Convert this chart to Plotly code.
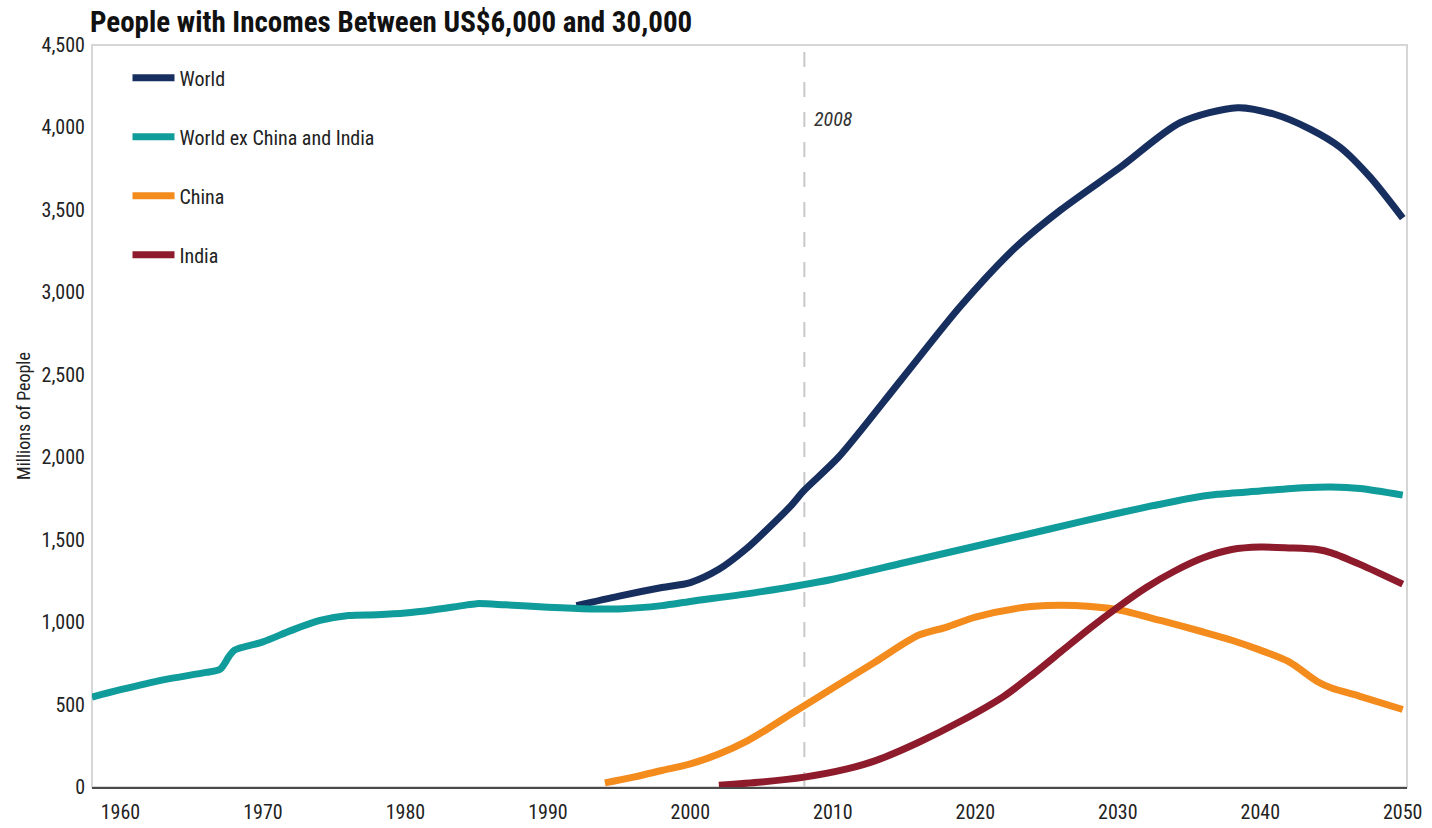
import plotly.graph_objects as go

# Series: millions of people with incomes between US$6,000 and 30,000
years_ex = [1958, 1960, 1963, 1966, 1967, 1967.6, 1968, 1970, 1972, 1974, 1976, 1978, 1980,
            1982, 1984, 1985, 1987, 1990, 1993, 1995, 1998, 2000, 2005, 2010, 2015,
            2020, 2025, 2030, 2035, 2037, 2040, 2043, 2045, 2047, 2050]
world_ex = [545, 590, 650, 695, 715, 790, 830, 880, 950, 1010, 1040, 1045, 1055,
            1075, 1100, 1112, 1105, 1090, 1080, 1080, 1100, 1125, 1185, 1260, 1360,
            1460, 1560, 1660, 1750, 1775, 1795, 1815, 1820, 1810, 1770]

years_world = [1992, 1995, 1998, 2000, 2002, 2004, 2005, 2007, 2008, 2010.4, 2014.8,
               2019, 2022.8, 2026, 2030.2, 2034.4, 2038.4, 2041, 2043.5, 2045.6,
               2047.7, 2050]
world = [1100, 1158, 1210, 1240, 1320, 1450, 1530, 1700, 1800, 2000, 2470,
         2920, 3270, 3500, 3760, 4030, 4120, 4080, 3990, 3880,
         3700, 3450]

years_china = [1994, 1996, 1998, 2000, 2002, 2004, 2005, 2007, 2010, 2013, 2016, 2018,
               2020, 2023, 2025, 2027, 2030, 2033, 2036, 2038, 2040, 2042, 2044,
               2045, 2047, 2050]
china = [25, 60, 100, 140, 200, 280, 330, 440, 600, 760, 920, 970,
         1030, 1085, 1100, 1100, 1075, 1010, 940, 890, 830, 760, 640,
         600, 550, 470]

years_india = [2002, 2005, 2008, 2011, 2013, 2016, 2019, 2022, 2024, 2026, 2028, 2030,
               2032, 2034, 2036, 2038, 2040, 2042, 2044, 2045, 2047, 2050]
india = [10, 30, 60, 110, 160, 270, 400, 550, 680, 820, 960, 1090,
         1210, 1310, 1390, 1440, 1455, 1450, 1440, 1420, 1350, 1230]

marker_year = 2008
x_ticks = [1960, 1970, 1980, 1990, 2000, 2010, 2020, 2030, 2040, 2050]
y_ticks = [0, 500, 1000, 1500, 2000, 2500, 3000, 3500, 4000, 4500]

FONT = "Liberation Sans Narrow, Roboto Condensed, Arial Narrow, Roboto, sans-serif"

series = [
    ("World", years_world, world, "#172f5f"),
    ("World ex China and India", years_ex, world_ex, "#0f9c9b"),
    ("China", years_china, china, "#f38b1d"),
    ("India", years_india, india, "#8e1b2b"),
]

fig = go.Figure()
for name, xs, ys, color in series:
    fig.add_trace(go.Scatter(
        x=xs, y=ys, name=name, mode="lines", legendgroup=name,
        line=dict(color=color, width=7, shape="spline", smoothing=0.8),
    ))

# Light frame around the plotting area
fig.add_shape(type="rect", xref="paper", yref="paper", x0=0, x1=1, y0=0, y1=1,
              line=dict(color="#d6d6d6", width=2), layer="below")

# Reference year marker
fig.add_shape(type="line", xref="x", yref="paper", x0=marker_year, x1=marker_year,
              y0=0, y1=1, line=dict(color="#c8c8c8", width=2, dash="longdash"),
              layer="below")
fig.add_annotation(x=marker_year, xref="x", y=4050, yref="y", text="<i>2008</i>",
                   showarrow=False, xanchor="left", xshift=8,
                   font=dict(family=FONT, size=20, color="#333333"))

fig.update_layout(
    width=1432, height=828,
    margin=dict(l=92, r=25, t=45, b=41),
    paper_bgcolor="white", plot_bgcolor="white",
    font=dict(family=FONT, size=19, color="#333333"),
    title=dict(text="<b>People with Incomes Between US$6,000 and 30,000</b>",
               x=90 / 1432, xanchor="left", xref="container",
               y=1 - 22 / 828, yanchor="middle", yref="container",
               font=dict(family=FONT, size=29, color="#111111")),
    showlegend=True,
    legend=dict(x=0.027, y=0.982, xanchor="left", yanchor="top",
                bgcolor="rgba(0,0,0,0)", tracegroupgap=30, itemwidth=42,
                font=dict(family=FONT, size=20, color="#222222")),
    xaxis=dict(range=[1958, 2050.3], tickvals=x_ticks, showgrid=False, zeroline=False,
               showline=True, linecolor="#4a4a4a", linewidth=2, ticks="",
               automargin=False, ticklabelstandoff=6,
               tickfont=dict(size=20, color="#222222")),
    yaxis=dict(range=[0, 4500], tickvals=y_ticks, tickformat=",d", showgrid=False,
               zeroline=False, showline=False, ticks="", ticklabelstandoff=6,
               automargin=False,
               title=dict(text="Millions of People", standoff=6,
                          font=dict(size=18, color="#222222")),
               tickfont=dict(size=20, color="#222222")),
)

fig.write_html("out.html")
